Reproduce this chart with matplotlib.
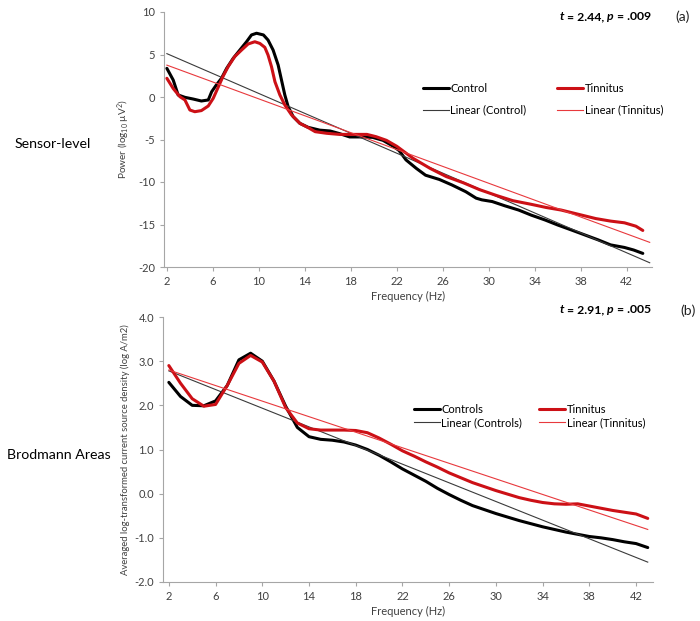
import numpy as np
import matplotlib
matplotlib.use("Agg")
import matplotlib.pyplot as plt
from matplotlib.offsetbox import TextArea, HPacker, AnchoredOffsetbox

plt.rcParams['font.family'] = ['Lato', 'DejaVu Sans']
plt.rcParams['mathtext.fontset'] = 'custom'
plt.rcParams['mathtext.rm'] = 'Lato'
plt.rcParams['mathtext.it'] = 'Lato:italic'
plt.rcParams['axes.unicode_minus'] = False

# ---- sensor-level data (log10 uV^2) ----
f_ctrl_a = [2.0, 2.55, 2.98, 3.57, 4.29, 5.0, 5.6, 5.9, 6.3, 6.75, 7.2, 7.77, 8.35, 8.93,
            9.36, 9.8, 10.4, 10.8, 11.24, 11.68, 11.97, 12.26, 12.55, 12.98, 13.57, 14.29,
            15.3, 16.2, 17.0, 17.9, 19.1, 19.9, 20.8, 21.7, 22.2, 22.8, 23.7, 24.5,
            25.7, 26.8, 28.0, 28.9, 29.4, 30.3, 31.4, 32.6, 33.7, 34.9, 36.0, 37.2,
            38.3, 39.5, 40.6, 41.8, 42.6, 43.4]
p_ctrl_a = [3.37, 2.0, 0.24, -0.04, -0.24, -0.47, -0.35, 0.63, 1.41, 2.2, 3.37, 4.55, 5.53,
            6.5, 7.3, 7.5, 7.3, 6.7, 5.53, 3.76, 2.0, 0.24, -1.14, -2.3, -3.1, -3.57,
            -3.9, -4.0, -4.3, -4.7, -4.7, -4.75, -5.1, -5.8, -6.3, -7.4, -8.4, -9.2,
            -9.7, -10.35, -11.14, -11.9, -12.1, -12.3, -12.8, -13.3, -13.9, -14.47,
            -15.06, -15.65, -16.2, -16.8, -17.4, -17.7, -18.0, -18.4]

f_tinn_a = [2.0, 2.55, 3.13, 3.57, 4.0, 4.43, 5.0, 5.6, 6.03, 6.46, 6.9, 7.33, 7.9, 8.5,
            9.07, 9.65, 10.09, 10.52, 10.8, 11.1, 11.4, 11.83, 12.26, 12.84, 13.57, 14.29,
            14.9, 15.9, 17.0, 18.2, 19.4, 20.2, 21.1, 22.0, 23.4, 24.9, 26.3, 27.8,
            29.2, 30.7, 32.1, 33.6, 35.0, 36.3, 37.8, 39.3, 40.6, 41.8, 42.8, 43.4]
p_tinn_a = [2.2, 1.0, 0.04, -0.35, -1.53, -1.73, -1.6, -1.06, -0.16, 1.14, 2.47, 3.57,
            4.75, 5.53, 6.24, 6.5, 6.3, 5.84, 4.94, 3.57, 1.8, 0.24, -0.94, -2.1, -3.1,
            -3.6, -4.08, -4.27, -4.4, -4.4, -4.4, -4.67, -5.1, -5.8, -7.2, -8.4, -9.36,
            -10.1, -10.9, -11.6, -12.2, -12.6, -13.0, -13.3, -13.8, -14.3, -14.6, -14.8,
            -15.2, -15.7]

# linear trend lines (value at first and last frequency)
trend_f_a = [2.0, 44.0]
trend_ctrl_a = [5.1, -19.5]
trend_tinn_a = [3.75, -17.1]

# ---- Brodmann areas data (log A/m2) ----
f_b = list(range(2, 44))
ctrl_b = [2.52, 2.2, 2.0, 1.99, 2.1, 2.45, 3.03, 3.18, 3.0, 2.55, 1.98, 1.5, 1.29, 1.23,
          1.21, 1.17, 1.10, 1.0, 0.87, 0.72, 0.56, 0.42, 0.28, 0.12, -0.02, -0.15,
          -0.27, -0.36, -0.45, -0.53, -0.61, -0.68, -0.75, -0.81, -0.87, -0.92, -0.97,
          -1.0, -1.04, -1.09, -1.13, -1.22]
tinn_b = [2.9, 2.5, 2.15, 1.98, 2.02, 2.45, 2.95, 3.13, 2.98, 2.55, 1.95, 1.6, 1.47, 1.44,
          1.44, 1.44, 1.43, 1.38, 1.26, 1.12, 0.97, 0.85, 0.72, 0.6, 0.47, 0.36, 0.25,
          0.16, 0.07, -0.01, -0.09, -0.15, -0.2, -0.23, -0.24, -0.23, -0.28, -0.33,
          -0.38, -0.42, -0.46, -0.56]
trend_f_b = [2.0, 43.0]
trend_ctrl_b = [2.78, -1.55]
trend_tinn_b = [2.8, -0.81]

xticks = list(range(2, 43, 4))

BLACK = '#000000'
RED = '#cc1016'
TREND_K = '#3a3a3a'
TREND_R = '#e8393d'
AXIS = '#a6a6a6'
TICKC = '#404040'


def style(ax):
    for s in ['top', 'right']:
        ax.spines[s].set_visible(False)
    for s in ['left', 'bottom']:
        ax.spines[s].set_color(AXIS)
        ax.spines[s].set_linewidth(0.8)
    ax.tick_params(colors=AXIS, labelcolor=TICKC, labelsize=8, length=3, width=0.8)
    ax.set_xticks(xticks)


def stat_box(ax, tval, pval, y):
    bold = dict(weight='bold', size=8.8, color='#000000')
    boldit = dict(weight='bold', style='italic', size=8.8, color='#000000')
    parts = [TextArea('t', textprops=boldit), TextArea(' = ' + tval + ', ', textprops=bold),
             TextArea('p', textprops=boldit), TextArea(' = ' + pval, textprops=bold)]
    box = HPacker(children=parts, align='baseline', pad=0, sep=0)
    anc = AnchoredOffsetbox(loc='upper right', child=box, frameon=False, pad=0, borderpad=0,
                            bbox_to_anchor=(651 / 700, y), bbox_transform=fig.transFigure)
    fig.add_artist(anc)


fig = plt.figure(figsize=(7, 6.21), dpi=100)

# panel (a)
ax1 = fig.add_axes([164 / 700, 1 - 267 / 621, (652 - 164) / 700, (267 - 12) / 621])
ax1.plot(f_ctrl_a, p_ctrl_a, color=BLACK, lw=2.2, label='Control', solid_capstyle='round')
ax1.plot(trend_f_a, trend_ctrl_a, color=TREND_K, lw=0.8, label='Linear (Control)')
ax1.plot(f_tinn_a, p_tinn_a, color=RED, lw=2.2, label='Tinnitus', solid_capstyle='round')
ax1.plot(trend_f_a, trend_tinn_a, color=TREND_R, lw=0.8, label='Linear (Tinnitus)')
ax1.set_xlim(1.75, 44.2)
ax1.set_ylim(-20, 10)
ax1.set_yticks(range(-20, 11, 5))
style(ax1)
ax1.set_ylabel('Power (log$_{10}$ µV$^2$)', fontsize=7.2, color=TICKC, labelpad=4)
ax1.set_xlabel('Frequency (Hz)', fontsize=8, color=TICKC, labelpad=3)
ax1.legend(ncol=2, loc='upper left', bbox_to_anchor=(423 / 700, 1 - 83 / 621),
           bbox_transform=fig.transFigure, frameon=False, fontsize=8, borderpad=0,
           borderaxespad=0, handlelength=2.3, handletextpad=0.15, columnspacing=2.8,
           labelspacing=0.95)

# panel (b)
ax2 = fig.add_axes([163 / 700, 1 - 582 / 621, (653 - 163) / 700, (582 - 317) / 621])
ax2.plot(f_b, ctrl_b, color=BLACK, lw=2.2, label='Controls', solid_capstyle='round')
ax2.plot(trend_f_b, trend_ctrl_b, color=TREND_K, lw=0.8, label='Linear (Controls)')
ax2.plot(f_b, tinn_b, color=RED, lw=2.2, label='Tinnitus', solid_capstyle='round')
ax2.plot(trend_f_b, trend_tinn_b, color=TREND_R, lw=0.8, label='Linear (Tinnitus)')
ax2.set_xlim(1.5, 43.45)
ax2.set_ylim(-2, 4)
ax2.set_yticks(np.arange(-2, 4.01, 1.0))
ax2.yaxis.set_major_formatter(matplotlib.ticker.FormatStrFormatter('%.1f'))
style(ax2)
ax2.set_ylabel('Averaged log-transformed current source density (log A/m2)', fontsize=6.8,
               color=TICKC, labelpad=3)
ax2.set_xlabel('Frequency (Hz)', fontsize=8, color=TICKC, labelpad=3)
ax2.legend(ncol=2, loc='upper left', bbox_to_anchor=(414 / 700, 1 - 404 / 621),
           bbox_transform=fig.transFigure, frameon=False, fontsize=8, borderpad=0,
           borderaxespad=0, handlelength=2.3, handletextpad=0.15, columnspacing=1.55,
           labelspacing=0.2)

stat_box(ax1, '2.44', '.009', 1 - 11 / 621)
stat_box(ax2, '2.91', '.005', 1 - 304 / 621)
fig.text(683 / 700, 1 - 17 / 621, '(a)', fontsize=10, ha='center', va='center', color='#222222')
fig.text(688 / 700, 1 - 311 / 621, '(b)', fontsize=10, ha='center', va='center', color='#222222')

fig.text(15 / 700, 1 - 144 / 621, 'Sensor-level', fontsize=10.2, va='center', ha='left')
fig.text(7 / 700, 1 - 455 / 621, 'Brodmann Areas', fontsize=10.2, va='center', ha='left')

fig.savefig('out.png', dpi=100)
